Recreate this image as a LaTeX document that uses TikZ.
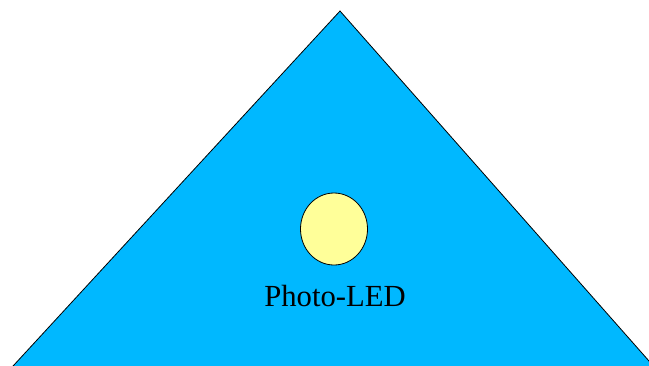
\documentclass[tikz,border=0pt]{standalone}
\usepackage{fontspec}
\setmainfont{Liberation Serif}
\usetikzlibrary{positioning, shapes.geometric}
\definecolor{prismblue}{RGB}{0,184,255}
\definecolor{ledyellow}{RGB}{255,255,153}

\begin{document}
\begin{tikzpicture}[
    x=0.75pt, y=-0.75pt,
    prism/.style={draw, fill=prismblue, line width=0.6pt},
    led/.style={draw, fill=ledyellow, ellipse, minimum width=67*0.75pt, minimum height=72*0.75pt, inner sep=0pt, line width=0.6pt},
    label/.style={font=\fontsize{23}{27}\selectfont, inner sep=0pt}
]
\useasboundingbox (0,0) rectangle (649,365);
\clip (0,0) rectangle (649,365);
\draw[prism] (340,11) -- (2,378) -- (664,378) -- cycle;
\node[led] (photoled) at (334,229) {};
\node[label, anchor=base] (ledname) at (335,306) {Photo-LED};
\end{tikzpicture}
\end{document}
